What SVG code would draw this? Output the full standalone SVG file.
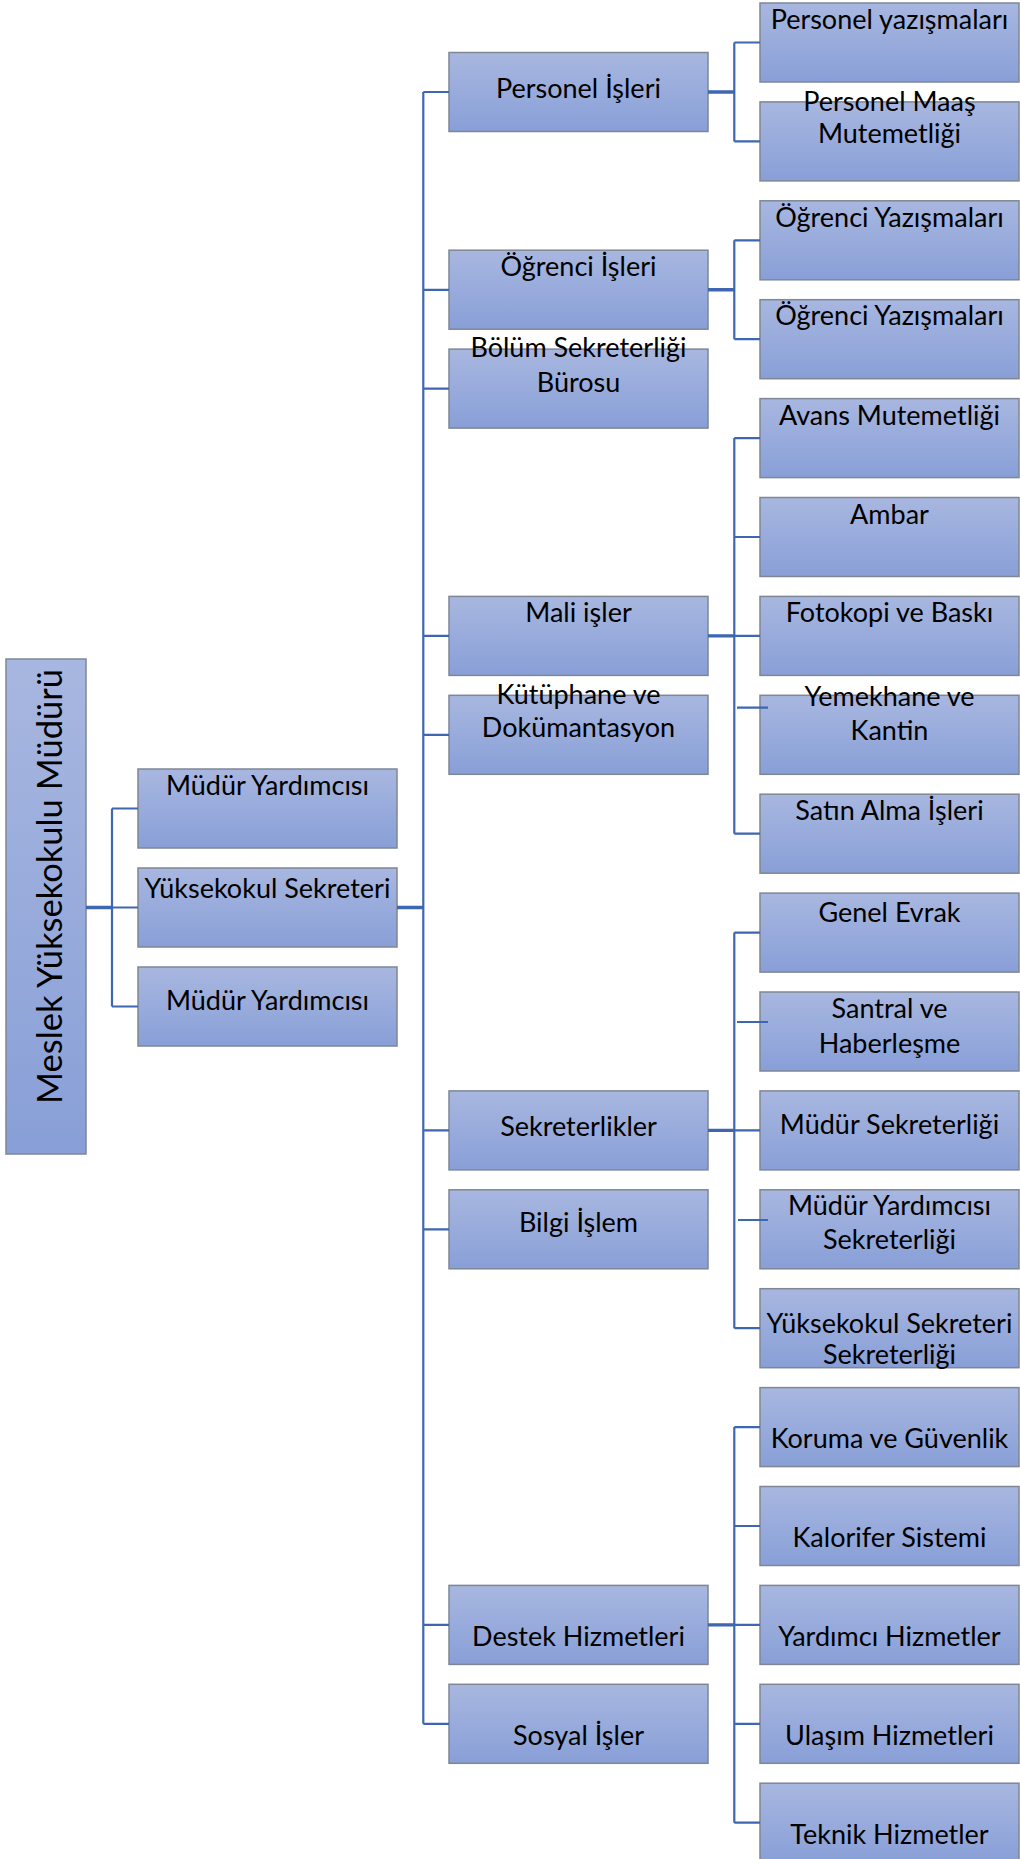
<svg xmlns="http://www.w3.org/2000/svg" width="1020" height="1859" viewBox="0 0 1020 1859">
<defs>
<linearGradient id="g" x1="0" y1="0" x2="0" y2="1">
<stop offset="0" stop-color="#a8b7e0"/>
<stop offset="1" stop-color="#889fd7"/>
</linearGradient>
<style>
.b{fill:url(#g);stroke:#7f8795;stroke-width:1.5}
.t{font-family:Lato,"Liberation Sans",sans-serif;font-size:27px;fill:#000;text-anchor:middle}
.c{fill:none;stroke:#3f67b1;stroke-width:2.2}
.k{fill:none;stroke:#3f67b1;stroke-width:3.4}
</style>
</defs>
<rect width="1020" height="1859" fill="#fff"/>

<g id="root"><rect class="b" x="6" y="659" width="80" height="495"/><text class="t" style="font-size:34.5px" transform="translate(62,886.5) rotate(-90)">Meslek Yüksekokulu Müdürü</text></g>

<g id="l1-myd1"><rect class="b" x="138" y="769" width="259" height="79"/><text class="t" x="267.5" y="795">Müdür Yardımcısı</text></g>
<g id="l1-ys"><rect class="b" x="138" y="868" width="259" height="79"/><text class="t" x="267.5" y="898">Yüksekokul Sekreteri</text></g>
<g id="l1-myd2"><rect class="b" x="138" y="967" width="259" height="79"/><text class="t" x="267.5" y="1010">Müdür Yardımcısı</text></g>

<g id="l2-personel"><rect class="b" x="449" y="52.5" width="259" height="79"/><text class="t" x="578.5" y="98">Personel İşleri</text></g>
<g id="l2-ogrenci"><rect class="b" x="449" y="250.2" width="259" height="79"/><text class="t" x="578.5" y="276">Öğrenci İşleri</text></g>
<g id="l2-bolum"><rect class="b" x="449" y="349.1" width="259" height="79"/><text class="t" x="578.5" y="357">Bölüm Sekreterliği</text><text class="t" x="578.5" y="392">Bürosu</text></g>
<g id="l2-mali"><rect class="b" x="449" y="596.4" width="259" height="79"/><text class="t" x="578.5" y="622">Mali işler</text></g>
<g id="l2-kutuphane"><rect class="b" x="449" y="695.3" width="259" height="79"/><text class="t" x="578.5" y="704">Kütüphane ve</text><text class="t" x="578.5" y="737">Dokümantasyon</text></g>
<g id="l2-sekreterlikler"><rect class="b" x="449" y="1090.9" width="259" height="79"/><text class="t" x="578.5" y="1136">Sekreterlikler</text></g>
<g id="l2-bilgi"><rect class="b" x="449" y="1189.8" width="259" height="79"/><text class="t" x="578.5" y="1232">Bilgi İşlem</text></g>
<g id="l2-destek"><rect class="b" x="449" y="1585.4" width="259" height="79"/><text class="t" x="578.5" y="1646">Destek Hizmetleri</text></g>
<g id="l2-sosyal"><rect class="b" x="449" y="1684.3" width="259" height="79"/><text class="t" x="578.5" y="1745">Sosyal İşler</text></g>

<g id="l3-pyaz"><rect class="b" x="760" y="3" width="259" height="79"/><text class="t" x="889.5" y="29">Personel yazışmaları</text></g>
<g id="l3-pmaas"><rect class="b" x="760" y="101.9" width="259" height="79"/><text class="t" x="889.5" y="111">Personel Maaş</text><text class="t" x="889.5" y="143">Mutemetliği</text></g>
<g id="l3-oyaz1"><rect class="b" x="760" y="200.8" width="259" height="79"/><text class="t" x="889.5" y="227">Öğrenci Yazışmaları</text></g>
<g id="l3-oyaz2"><rect class="b" x="760" y="299.7" width="259" height="79"/><text class="t" x="889.5" y="325">Öğrenci Yazışmaları</text></g>
<g id="l3-avans"><rect class="b" x="760" y="398.6" width="259" height="79"/><text class="t" x="889.5" y="425">Avans Mutemetliği</text></g>
<g id="l3-ambar"><rect class="b" x="760" y="497.5" width="259" height="79"/><text class="t" x="889.5" y="524">Ambar</text></g>
<g id="l3-fotokopi"><rect class="b" x="760" y="596.4" width="259" height="79"/><text class="t" x="889.5" y="622">Fotokopi ve Baskı</text></g>
<g id="l3-yemekhane"><rect class="b" x="760" y="695.3" width="259" height="79"/><text class="t" x="889.5" y="706">Yemekhane ve</text><text class="t" x="889.5" y="740">Kantin</text></g>
<g id="l3-satin"><rect class="b" x="760" y="794.2" width="259" height="79"/><text class="t" x="889.5" y="820">Satın Alma İşleri</text></g>
<g id="l3-genel"><rect class="b" x="760" y="893.1" width="259" height="79"/><text class="t" x="889.5" y="922">Genel Evrak</text></g>
<g id="l3-santral"><rect class="b" x="760" y="992" width="259" height="79"/><text class="t" x="889.5" y="1018">Santral ve</text><text class="t" x="889.5" y="1053">Haberleşme</text></g>
<g id="l3-mudursek"><rect class="b" x="760" y="1090.9" width="259" height="79"/><text class="t" x="889.5" y="1134">Müdür Sekreterliği</text></g>
<g id="l3-mydsek"><rect class="b" x="760" y="1189.8" width="259" height="79"/><text class="t" x="889.5" y="1215">Müdür Yardımcısı</text><text class="t" x="889.5" y="1249">Sekreterliği</text></g>
<g id="l3-yssek"><rect class="b" x="760" y="1288.7" width="259" height="79"/><text class="t" x="889.5" y="1333">Yüksekokul Sekreteri</text><text class="t" x="889.5" y="1364">Sekreterliği</text></g>
<g id="l3-koruma"><rect class="b" x="760" y="1387.6" width="259" height="79"/><text class="t" x="889.5" y="1448">Koruma ve Güvenlik</text></g>
<g id="l3-kalorifer"><rect class="b" x="760" y="1486.5" width="259" height="79"/><text class="t" x="889.5" y="1547">Kalorifer Sistemi</text></g>
<g id="l3-yardimci"><rect class="b" x="760" y="1585.4" width="259" height="79"/><text class="t" x="889.5" y="1646">Yardımcı Hizmetler</text></g>
<g id="l3-ulasim"><rect class="b" x="760" y="1684.3" width="259" height="79"/><text class="t" x="889.5" y="1745">Ulaşım Hizmetleri</text></g>
<g id="l3-teknik"><rect class="b" x="760" y="1783.2" width="259" height="79"/><text class="t" x="889.5" y="1844">Teknik Hizmetler</text></g>

<g id="connectors">
<path class="k" d="M86 907.5H112M397 907.5H423.3M708 92H734.3M708 289.8H734.3M708 635.9H734.3M708 1130.4H734.3M708 1624.9H734.3"/>
<path class="c" d="M112 808.5V1006.5M112 808.5H138M112 907.5H138M112 1006.5H138"/>
<path class="c" d="M423.3 92V1723.8M423.3 92H449M423.3 289.8H449M423.3 388.6H449M423.3 635.9H449M423.3 734.8H449M423.3 1130.4H449M423.3 1229.3H449M423.3 1624.9H449M423.3 1723.8H449"/>
<path class="c" d="M734.3 42.5V141.4M734.3 42.5H760M734.3 141.4H760"/>
<path class="c" d="M734.3 240.3V339.2M734.3 240.3H760M734.3 339.2H760"/>
<path class="c" d="M734.3 438.1V833.7M734.3 438.1H760M734.3 537H760M734.3 635.9H760M737 707.7H768M734.3 833.7H760"/>
<path class="c" d="M734.3 932.6V1328.2M734.3 932.6H760M737 1022H768M734.3 1130.4H760M738 1220H768M734.3 1328.2H760"/>
<path class="c" d="M734.3 1427.1V1822.7M734.3 1427.1H760M734.3 1526H760M734.3 1624.9H760M734.3 1723.8H760M734.3 1822.7H760"/>
</g>
</svg>
